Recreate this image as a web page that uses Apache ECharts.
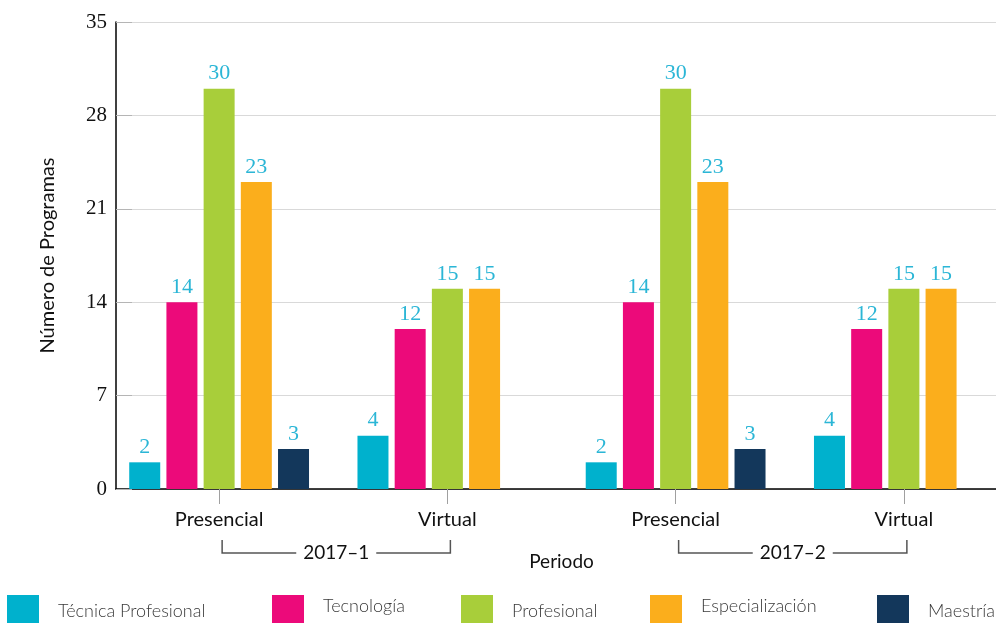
<!DOCTYPE html>
<html>
<head>
<meta charset="utf-8">
<script src="https://cdn.jsdelivr.net/npm/echarts@6/dist/echarts.min.js"></script>
<style>
  html, body { margin: 0; padding: 0; background: #fff; }
  #chart { width: 996px; height: 623px; }
</style>
</head>
<body>
<div id="chart"></div>
<script>
// datos del gráfico
const modalidades = ['Presencial', 'Virtual', 'Presencial', 'Virtual']
const periodos = ['2017–1', '2017–2']
const tecnicaProfesional = [2, 4, 2, 4]
const tecnologia = [14, 12, 14, 12]
const profesional = [30, 15, 30, 15]
const especializacion = [23, 15, 23, 15]
const maestria = [3, null, 3, null]
const yTicks = [0, 7, 14, 21, 28, 35]

const sans = 'Lato, "Noto Sans", sans-serif'
const serif = '"Liberation Serif", "DejaVu Serif", serif'
const labelColor = '#2bb6d6'

const seriesDefs = [
  { name: 'Técnica Profesional', data: tecnicaProfesional, color: '#00b1cd' },
  { name: 'Tecnología', data: tecnologia, color: '#ec0a7a' },
  { name: 'Profesional', data: profesional, color: '#a8ce3a' },
  { name: 'Especialización', data: especializacion, color: '#fbae1c' },
  { name: 'Maestría', data: maestria, color: '#13375b' }
]

// posición de cada leyenda (colocadas a mano en el original)
const legendPos = [
  { left: 7, raise: 0 },
  { left: 272, raise: 10 },
  { left: 461, raise: 0 },
  { left: 650, raise: 10 },
  { left: 877, raise: 0 }
]

const chart = echarts.init(document.getElementById('chart'))

chart.setOption({
  animation: false,
  grid: [
    // la rejilla de barras se sale por la derecha, como en el original recortado
    { left: 105, width: 913, top: 22, bottom: 134, outerBoundsMode: 'none', containLabel: false },
    { left: 116, right: 0, top: 22, bottom: 134, outerBoundsMode: 'none', containLabel: false }
  ],
  legend: seriesDefs.map((s, i) => ({
    data: [s.name],
    left: legendPos[i].left,
    top: 595,
    padding: 0,
    icon: 'rect',
    itemWidth: 32,
    itemHeight: 32,
    itemGap: 0,
    selectedMode: false,
    formatter: '{t|{name}}',
    textStyle: {
      rich: {
        t: {
          fontFamily: sans,
          fontSize: 18,
          fontWeight: 300,
          color: '#3a3a3a',
          padding: [0, 0, legendPos[i].raise, 14]
        }
      }
    }
  })),
  xAxis: [
    {
      type: 'category',
      gridIndex: 0,
      data: modalidades,
      name: 'Periodo',
      nameLocation: 'middle',
      nameGap: 63,
      nameTextStyle: { fontFamily: sans, fontSize: 19, color: '#111' },
      axisLine: { show: true, lineStyle: { color: 'rgba(0,0,0,0)' } },
      axisTick: { show: true, alignWithLabel: true, length: 15, lineStyle: { color: '#a0a0a0', width: 1 } },
      axisLabel: { margin: 21, fontFamily: sans, fontSize: 20, color: '#111' },
      splitLine: { show: false }
    },
    {
      type: 'value',
      gridIndex: 1,
      min: 0,
      max: 1,
      axisLine: { show: true, lineStyle: { color: '#000', width: 1.5 } },
      axisTick: { show: false },
      axisLabel: { show: false },
      splitLine: { show: false }
    }
  ],
  yAxis: [
    { type: 'value', gridIndex: 0, min: 0, max: 35, interval: 7, show: false },
    {
      type: 'value',
      gridIndex: 1,
      min: yTicks[0],
      max: yTicks[yTicks.length - 1],
      interval: 7,
      name: 'Número de Programas',
      nameLocation: 'middle',
      nameGap: 58,
      nameTextStyle: { fontFamily: sans, fontSize: 20, color: '#111' },
      axisLine: { show: true, lineStyle: { color: '#000', width: 1.5 } },
      axisTick: { show: true, inside: true, length: 16, lineStyle: { color: '#b5b5b5' } },
      axisLabel: { margin: 9, fontFamily: serif, fontSize: 21, color: '#111' },
      splitLine: { show: true, lineStyle: { color: '#d9d9d9', width: 1 } }
    }
  ],
  series: seriesDefs.map(s => ({
    name: s.name,
    type: 'bar',
    xAxisIndex: 0,
    yAxisIndex: 0,
    data: s.data,
    barWidth: 31,
    barGap: '20%',
    itemStyle: { color: s.color },
    label: {
      show: true,
      position: 'top',
      distance: 4,
      fontFamily: serif,
      fontSize: 22,
      color: labelColor
    }
  }))
})

// corchetes de periodo bajo las etiquetas del eje
const bracketTop = 540
const bracketBottom = 553
const graphics = []
periodos.forEach((p, i) => {
  const x1 = chart.convertToPixel({ xAxisIndex: 0 }, i * 2) + 3
  const x2 = chart.convertToPixel({ xAxisIndex: 0 }, i * 2 + 1) + 3
  const mid = (x1 + x2) / 2
  const half = 40
  const stroke = { stroke: '#555', lineWidth: 1.5, fill: null }
  graphics.push(
    { type: 'polyline', shape: { points: [[x1, bracketTop], [x1, bracketBottom], [mid - half, bracketBottom]] }, style: stroke },
    { type: 'polyline', shape: { points: [[mid + half, bracketBottom], [x2, bracketBottom], [x2, bracketTop]] }, style: stroke },
    {
      type: 'text',
      x: mid,
      y: bracketBottom,
      style: { text: p, fontFamily: sans, fontSize: 19, fill: '#111', align: 'center', verticalAlign: 'middle' }
    }
  )
})
chart.setOption({ graphic: graphics })
</script>
</body>
</html>
